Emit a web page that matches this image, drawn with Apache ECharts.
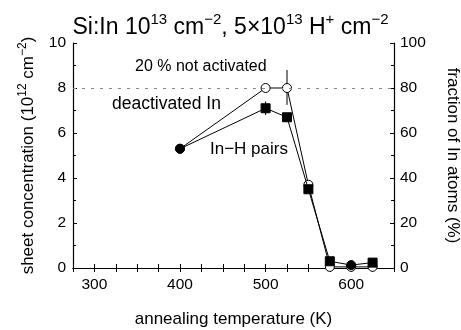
<!DOCTYPE html>
<html><head><meta charset="utf-8">
<script src="https://cdn.jsdelivr.net/npm/echarts@6/dist/echarts.min.js"></script>
<style>html,body{margin:0;padding:0;background:#fff}#c{width:461px;height:330px}</style>
</head><body><div id="c"></div>
<script>
const temps = [400, 500, 525, 550, 575, 600, 625];
const notActivated = [5.3, 8.0, 8.0, 3.7, 0.05, 0.05, 0.05];
const inhPairs = [5.3, 7.1, 6.7, 3.5, 0.3, 0.13, 0.24];
const inhSymbols = ['circle', 'rect', 'rect', 'rect', 'rect', 'circle', 'rect'];
const errTemps = [500, 525];
const errLow = [6.8, 7.25];
const errHigh = [7.4, 8.8];
const xLabels = [300, 400, 500, 600];
const leftTicks = [0, 2, 4, 6, 8, 10];
const rightTicks = [0, 20, 40, 60, 80, 100];
const refFraction = 80;

const FONT = "'Liberation Sans', Arial, Helvetica, sans-serif";
const chart = echarts.init(document.getElementById('c'), null, {renderer: 'canvas'});
const supStyle = {fontSize: 12, fontFamily: FONT, color: '#000', verticalAlign: 'top', lineHeight: 14};

const option = {
  backgroundColor: '#fff',
  animation: false,
  title: {
    text: '{a|Si:In 10}{s|13}{a| cm}{s|−2}{a|, 5×10}{s|13}{a| H}{s|+}{a| cm}{s|−2}',
    left: 'center', top: 7,
    textStyle: {
      fontWeight: 'normal',
      rich: {
        a: {fontSize: 23, fontFamily: FONT, fontWeight: 'normal', color: '#000', lineHeight: 27, verticalAlign: 'bottom'},
        s: {fontSize: 15, fontFamily: FONT, fontWeight: 'normal', color: '#000', lineHeight: 27, verticalAlign: 'top'}
      }
    }
  },
  grid: {left: 73, right: 67, top: 43, bottom: 62, containLabel: false, outerBoundsMode: 'none'},
  xAxis: [{
    type: 'value', min: 275, max: 650, interval: 25,
    name: 'annealing temperature (K)', nameLocation: 'middle', nameGap: 43,
    nameTextStyle: {fontSize: 17, fontFamily: FONT, color: '#000'},
    axisLine: {lineStyle: {color: '#000', width: 1.2}},
    axisTick: {inside: true, length: 4, lineStyle: {color: '#000'}},
    axisLabel: {fontSize: 15.5, fontFamily: FONT, color: '#000', margin: 9,
      formatter: v => xLabels.indexOf(v) >= 0 ? String(v) : ''},
    splitLine: {show: false}
  }, {
    type: 'value', min: 275, max: 650, interval: 25, position: 'top',
    axisLine: {lineStyle: {color: '#000', width: 1.2}},
    axisTick: {inside: true, length: 4, lineStyle: {color: '#000'}},
    axisLabel: {show: false}, splitLine: {show: false}
  }],
  yAxis: [{
    type: 'value', min: 0, max: 10, interval: 2,
    name: '{a|sheet concentration (10}{s|12}{a| cm}{s|−2}{a|)}',
    nameLocation: 'middle', nameGap: 36, nameRotate: 90,
    nameTextStyle: {rich: {
      a: {fontSize: 17, fontFamily: FONT, color: '#000', lineHeight: 20, verticalAlign: 'bottom'},
      s: supStyle
    }},
    axisLine: {lineStyle: {color: '#000', width: 1.2}},
    axisTick: {inside: true, length: 4, lineStyle: {color: '#000'}},
    minorTick: {show: true, splitNumber: 2, length: 3, lineStyle: {color: '#000'}},
    axisLabel: {fontSize: 15.5, fontFamily: FONT, color: '#000', margin: 7,
      formatter: v => leftTicks.indexOf(v) >= 0 ? String(v) : ''},
    splitLine: {show: false}
  }, {
    type: 'value', min: 0, max: 100, interval: 20, position: 'right',
    name: 'fraction of In atoms (%)',
    nameLocation: 'middle', nameGap: 50, nameRotate: -90,
    nameTextStyle: {fontSize: 17, fontFamily: FONT, color: '#000'},
    axisLine: {show: true, lineStyle: {color: '#000', width: 1.2}},
    axisTick: {show: true, inside: true, length: 4, lineStyle: {color: '#000'}},
    minorTick: {show: true, splitNumber: 2, length: 3, lineStyle: {color: '#000'}},
    axisLabel: {fontSize: 15.5, fontFamily: FONT, color: '#000', margin: 6,
      formatter: v => rightTicks.indexOf(v) >= 0 ? String(v) : ''},
    splitLine: {show: false}
  }],
  series: [{
    type: 'line', name: 'not activated', xAxisIndex: 0, yAxisIndex: 0,
    data: temps.map((t, i) => [t, notActivated[i]]),
    symbol: 'circle', symbolSize: 9, showSymbol: true,
    lineStyle: {color: '#000', width: 1},
    itemStyle: {color: '#fff', borderColor: '#000', borderWidth: 1},
    z: 3,
    markLine: {
      silent: true, symbol: 'none', label: {show: false},
      lineStyle: {color: '#888', type: [3, 6], width: 1},
      data: [{yAxis: refFraction / 10}]
    }
  }, {
    type: 'line', name: 'In-H pairs', xAxisIndex: 0, yAxisIndex: 0,
    data: temps.map((t, i) => ({value: [t, inhPairs[i]], symbol: inhSymbols[i],
      symbolSize: 9})),
    showSymbol: true,
    lineStyle: {color: '#000', width: 1},
    itemStyle: {color: '#000', borderColor: '#000'},
    z: 4
  }, {
    type: 'custom', xAxisIndex: 0, yAxisIndex: 0,
    data: errTemps.map((t, i) => [t, errLow[i], errHigh[i]]),
    renderItem: (params, api) => {
      const lo = api.coord([api.value(0), api.value(1)]);
      const hi = api.coord([api.value(0), api.value(2)]);
      return {type: 'line', shape: {x1: lo[0], y1: lo[1], x2: hi[0], y2: hi[1]},
        style: {stroke: '#000', lineWidth: 1}};
    },
    z: 2
  }],
  graphic: [
    {type: 'text', left: 135, top: 59, style: {text: '20 % not activated', font: '16px ' + FONT, fill: '#000'}},
    {type: 'text', left: 112, top: 95, style: {text: 'deactivated In', font: '17.5px ' + FONT, fill: '#000'}},
    {type: 'text', left: 210, top: 141, style: {text: 'In−H pairs', font: '17px ' + FONT, fill: '#000'}}
  ]
};
chart.setOption(option);
</script>
</body></html>
